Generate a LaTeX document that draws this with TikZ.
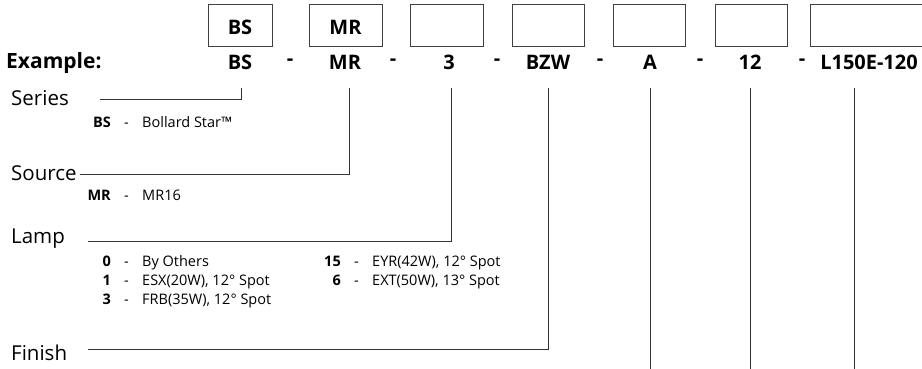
\documentclass[tikz,border=0pt]{standalone}
\usepackage{fontspec}
\setmainfont{Open Sans}
\usetikzlibrary{positioning}

\tikzset{
  codebox/.style={draw=black!75, line width=0.9pt, minimum height=42pt, inner sep=0pt,
    text height=20pt, text depth=0pt, font=\fontsize{20}{22}\selectfont\bfseries},
  code/.style={minimum height=52pt, inner sep=0pt, text depth=0pt,
    font=\fontsize{20}{22}\selectfont\bfseries},
  field/.style={anchor=base west, inner sep=0pt, font=\fontsize{20.5}{22}\selectfont},
  item/.style={anchor=base west, inner sep=0pt, font=\fontsize{14.5}{17}\selectfont},
  num/.style={anchor=base east, inner sep=0pt, font=\fontsize{14.5}{17}\selectfont\bfseries},
  lead/.style={draw=black!80, line width=0.9pt},
}

\begin{document}
\begin{tikzpicture}[x=1pt, y=-1pt]
    \useasboundingbox (0,0) rectangle (922,369);

    % Boxes to fill in
    \foreach \x/\w/\t [count=\i] in {240/64/BS, 345.5/73/MR, 446.5/73/, 548/72/, 649/72/, 751/72/, 870/120/} {
        \node[codebox, minimum width=\w pt] (box\i) at (\x,25) {\t};
    }

    % Example row
    \node[anchor=base west, inner sep=0pt, font=\fontsize{21}{22}\selectfont\bfseries] (example) at (6,68.5) {Example:};
    \node[code] (bs)   at (240,62) {BS};
    \node[code] (mr)   at (345,62) {MR};
    \node[code] (lamp) at (449,62) {3};
    \node[code] (fin)  at (548,62) {BZW};
    \node[code] (opt)  at (650,62) {A};
    \node[code] (vlt)  at (750,62) {12};
    \node[code] (led)  at (869,62) {L150E-120};
    \foreach \x [count=\i] in {290,393,497,600,700,802} {
        \node[code] (dash\i) at (\x,62) {-};
    }

    % Series
    \node[field] (series) at (11,106) {Series};
    \coordinate (serieslead) at (100,99);
    \draw[lead] (serieslead) -| ([xshift=1pt]bs.south);
    \node[num] (bsnum) at (111,128) {BS};
    \node[item] at (124,128) {-};
    \node[item] (bsitem) at (142,128) {Bollard Star™};

    % Source
    \node[field] (source) at (11,180) {Source};
    \coordinate (sourcelead) at (80,174);
    \draw[lead] (sourcelead) -| ([xshift=4pt]mr.south);
    \node[num] (mrnum) at (111,200.5) {MR};
    \node[item] at (124,200.5) {-};
    \node[item] (mritem) at (142,200.5) {MR16};

    % Lamp
    \node[field] (lampfield) at (11,243) {Lamp};
    \coordinate (lamplead) at (88,241.5);
    \draw[lead] (lamplead) -| ([xshift=2pt]lamp.south);
    \foreach \n/\t [count=\i] in {0/By Others, 1/{ESX(20W), 12° Spot}, 3/{FRB(35W), 12° Spot}} {
        \node[num] at (111,247+\i*19) {\n};
        \node[item] at (124,247+\i*19) {-};
        \node[item] (lampa\i) at (142,247+\i*19) {\t};
    }
    \foreach \n/\t [count=\i] in {15/{EYR(42W), 12° Spot}, 6/{EXT(50W), 13° Spot}} {
        \node[num] at (341,247+\i*19) {\n};
        \node[item] at (354,247+\i*19) {-};
        \node[item] (lampb\i) at (372,247+\i*19) {\t};
    }

    % Finish
    \node[field] (finish) at (11,360) {Finish};
    \coordinate (finishlead) at (88,349);
    \draw[lead] (finishlead) -| (fin.south);

    % Remaining leads run off the bottom
    \coordinate (bottom) at (0,372);
    \draw[lead] (opt.south) -- (opt.south |- bottom);
    \draw[lead] (vlt.south) -- (vlt.south |- bottom);
    \draw[lead] ([xshift=-15pt]led.south) -- ([xshift=-15pt]led.south |- bottom);
\end{tikzpicture}
\end{document}
